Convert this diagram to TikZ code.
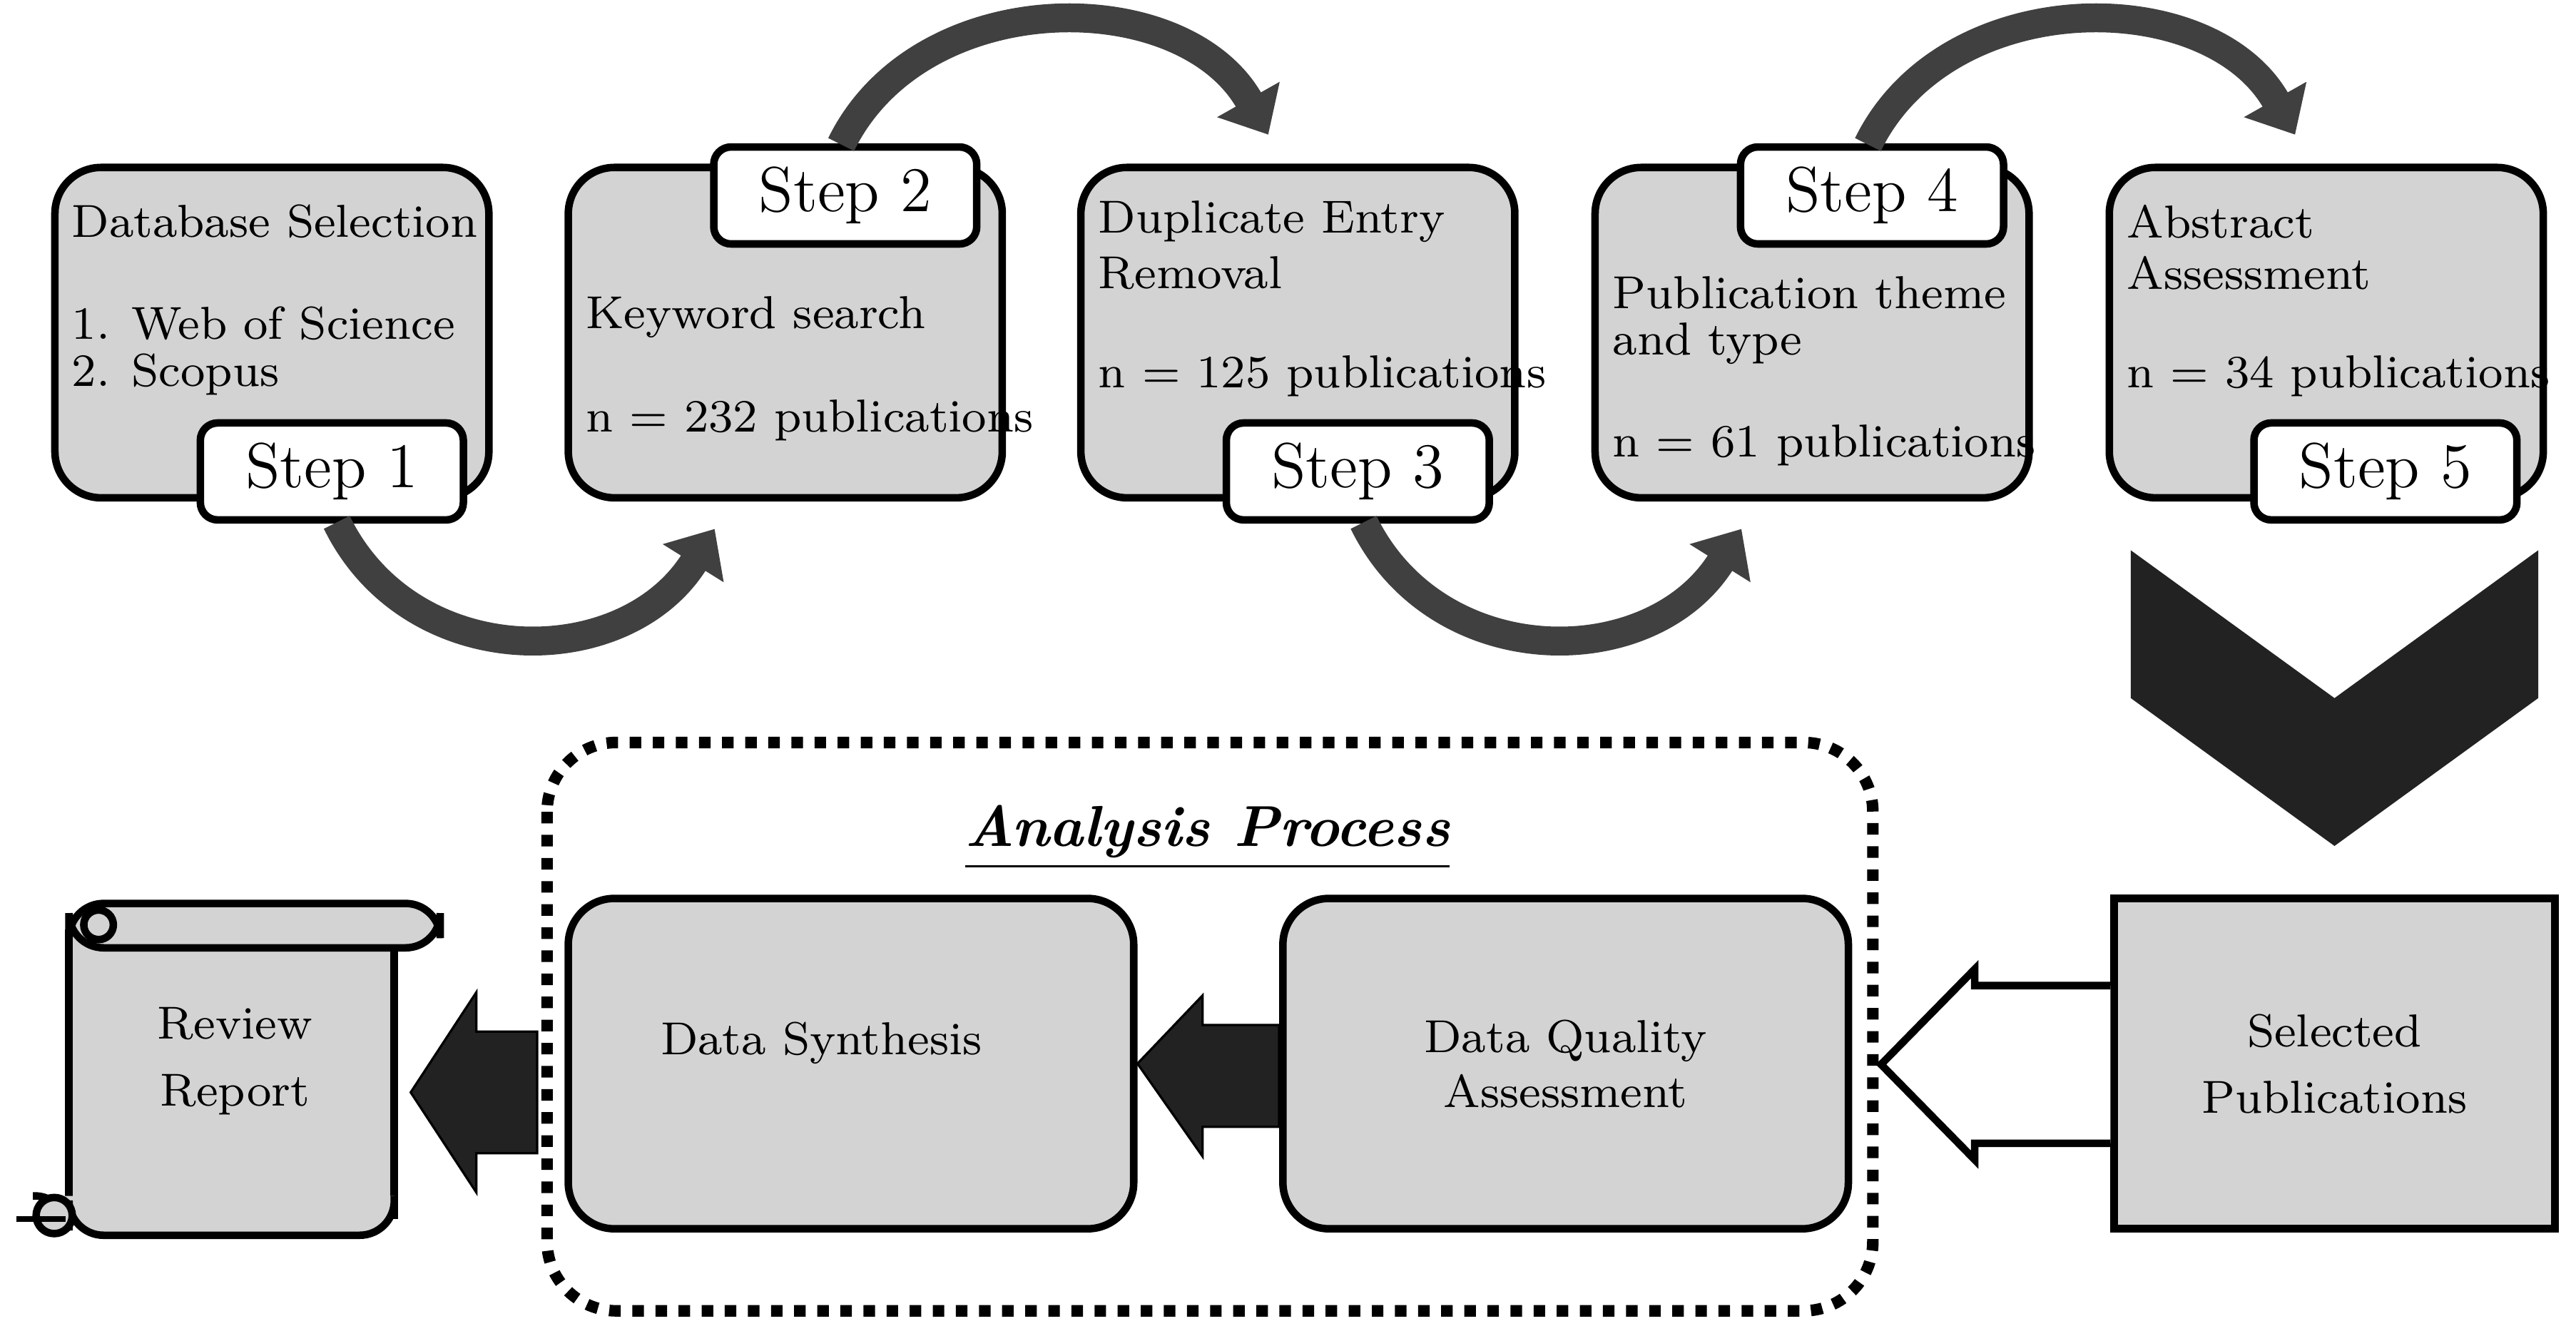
\documentclass[tikz,border=0pt]{standalone}
\usetikzlibrary{positioning,arrows.meta}
\definecolor{boxgray}{HTML}{D3D3D3}
\definecolor{arcgray}{HTML}{404040}
\definecolor{darkfill}{HTML}{222222}
\tikzset{
	stepbox/.style={draw,line width=1.3pt,fill=boxgray,rounded corners=8pt,minimum width=2.64cm,minimum height=2.01cm},
	steptab/.style={draw,line width=1.3pt,fill=white,rounded corners=3pt,minimum width=1.6cm,minimum height=0.59cm,font=\fontsize{11}{12}\selectfont},
	txt/.style={anchor=west,font=\fontsize{8}{9.5}\selectfont,align=left,inner sep=0pt},
	bigbox/.style={draw,line width=1.3pt,fill=boxgray,rounded corners=8pt,minimum width=3.44cm,minimum height=2.01cm,font=\fontsize{8}{9.5}\selectfont,align=center},
	curvearr/.style={arcgray,line width=5pt,-{Triangle[length=7pt,width=12pt]}},
	blackarr/.style={fill=darkfill,draw=black}
}
\begin{document}
\begin{tikzpicture}[x=0.01cm,y=-0.01cm]
	\useasboundingbox (0,0) rectangle (1568,813);

	% step boxes
	\node[stepbox] (b1) at (165.5,202.5) {};
	\node[stepbox] (b2) at (478,202.5) {};
	\node[stepbox] (b3) at (790,202.5) {};
	\node[stepbox] (b4) at (1103,202.5) {};
	\node[stepbox] (b5) at (1416,202.5) {};

	\node[txt] (t1a) at (43,135) {Database Selection};
	\node[txt] (t1b) at (43,197) {1. Web of Science};
	\node[txt] (t1c) at (43,228) {2. Scopus};
	\node[txt] (t2a) at (356,193) {Keyword search};
	\node[txt] (t2b) at (356,256) {n = 232 publications};
	\node[txt] (t3a) at (668,135) {Duplicate Entry};
	\node[txt] (t3b) at (668,166) {Removal};
	\node[txt] (t3c) at (668,229) {n = 125 publications};
	\node[txt] (t4a) at (981,178) {Publication theme};
	\node[txt] (t4b) at (981,209) {and type};
	\node[txt] (t4c) at (981,271) {n = 61 publications};
	\node[txt] (t5a) at (1294,135) {Abstract};
	\node[txt] (t5b) at (1294,166) {Assessment};
	\node[txt] (t5c) at (1294,229) {n = 34 publications};

	\node[steptab] (s1) at (202,287) {Step 1};
	\node[steptab] (s2) at (514.5,119) {Step 2};
	\node[steptab] (s3) at (826.5,287) {Step 3};
	\node[steptab] (s4) at (1139.5,119) {Step 4};
	\node[steptab] (s5) at (1452,287) {Step 5};

	% curved arrows between steps
	\coordinate (a1s) at (205,318);
	\coordinate (a1e) at (435,322);
	\draw[curvearr] (a1s) .. controls (250,410) and (380,410) .. (a1e);
	\coordinate (a2s) at (512,88);
	\coordinate (a2e) at (772,82);
	\draw[curvearr] (a2s) .. controls (560,-10) and (720,-10) .. (a2e);
	\coordinate (a3s) at (830,318);
	\coordinate (a3e) at (1060,322);
	\draw[curvearr] (a3s) .. controls (875,410) and (1005,410) .. (a3e);
	\coordinate (a4s) at (1137,88);
	\coordinate (a4e) at (1397,82);
	\draw[curvearr] (a4s) .. controls (1185,-10) and (1345,-10) .. (a4e);

	% chevron
	\fill[darkfill] (1297,335) -- (1421,425) -- (1545,335) -- (1545,425) -- (1421,515) -- (1297,425) -- cycle;

	% lower row
	\node[draw,line width=1.3pt,fill=boxgray,minimum width=2.68cm,minimum height=2.01cm,align=center,font=\fontsize{8}{9.5}\selectfont] (sel) at (1421,647.5) {Selected\\[2pt]Publications};
	\draw[dotted,line width=2pt,rounded corners=12pt] (333,452) rectangle (1140,798);
	\node[font=\fontsize{10}{12}\selectfont\bfseries\itshape] (ap) at (735,510) {\underline{Analysis Process}};
	\node[bigbox] (dqa) at (953,647.5) {Data Quality\\Assessment};
	\node[bigbox] (ds) at (518,647.5) {};
	\node[txt,anchor=center] (dst) at (500,635) {Data Synthesis};

	% hollow arrow
	\draw[line width=1.3pt,fill=white] (sel.west |- 0,600) -- (1202,600) -- (1202,590) -- (1145,648) -- (1202,706) -- (1202,696) -- (sel.west |- 0,696);
	% black arrows
	\fill[blackarr] (dqa.west |- 0,624) -- (732,624) -- (732,606) -- (ds.east) -- (732,704) -- (732,686) -- (dqa.west |- 0,686) -- cycle;
	\fill[blackarr] (327,628) -- (290,628) -- (290,604) -- (250,665) -- (290,726) -- (290,702) -- (327,702) -- cycle;

	% scroll
	\draw[line width=1.3pt,fill=boxgray] (42,568) -- (42,740) -- (240,740) -- (240,568) -- cycle;
	\draw[line width=1.3pt,fill=boxgray,rounded corners=6pt] (42,550) rectangle (268,577);
	\draw[line width=1.3pt,fill=boxgray] (60,563) circle (9);
	\draw[line width=1.3pt,fill=boxgray,rounded corners=6pt] (20,728) -- (42,728) -- (42,752) -- (240,752) -- (240,728);
	\draw[line width=1.3pt,fill=boxgray] (33,740) circle (11);
	\draw[line width=1pt] (10,742) -- (40,742);
	\node[font=\fontsize{8}{9.5}\selectfont,align=center] (rr) at (143,646) {Review\\[2pt]Report};
\end{tikzpicture}
\end{document}
